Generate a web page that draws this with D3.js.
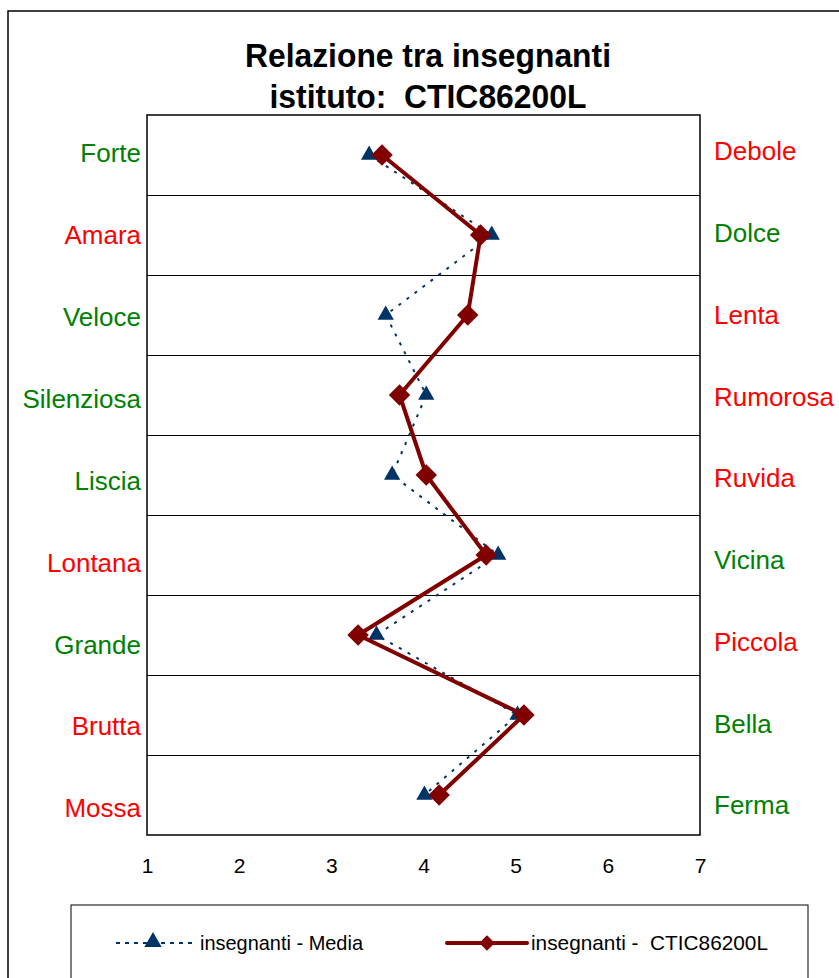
<!DOCTYPE html>
<html>
<head>
<meta charset="utf-8">
<script src="https://cdn.jsdelivr.net/npm/d3@7"></script>
<style>
  html, body { margin: 0; padding: 0; background: #fff; }
  svg { display: block; font-family: "Liberation Sans", Arial, sans-serif; }
  text { white-space: pre; }
</style>
</head>
<body>
<script>
// Semantic differential: each row is a pair of opposite adjectives, scored 1..7
const leftLabels  = ["Forte", "Amara", "Veloce", "Silenziosa", "Liscia", "Lontana", "Grande", "Brutta", "Mossa"];
const rightLabels = ["Debole", "Dolce", "Lenta", "Rumorosa", "Ruvida", "Vicina", "Piccola", "Bella", "Ferma"];
// true = positive pole (green), false = negative pole (red)
const leftPositive  = [true, false, true, true, true, false, true, false, false];
const rightPositive = [false, true, false, false, false, true, false, true, true];

const mediaValues  = [3.41, 4.74, 3.59, 4.03, 3.66, 4.81, 3.49, 5.02, 4.01];
const istitutoValues = [3.55, 4.62, 4.48, 3.74, 4.03, 4.68, 3.29, 5.09, 4.17];

const xTicks = [1, 2, 3, 4, 5, 6, 7];

const titleLines = ["Relazione tra insegnanti", "istituto:  CTIC86200L"];
const seriesNames = ["insegnanti - Media", "insegnanti -  CTIC86200L"];

const W = 839, H = 978;
const GREEN = "#008000", RED = "#ff0000";
const BLUE = "#003366", DARKRED = "#800000";

const svg = d3.select("body").append("svg").attr("width", W).attr("height", H);

// chart area frame (runs past the right and bottom edges)
svg.append("rect")
  .attr("x", 8).attr("y", 11).attr("width", 900).attr("height", 1000)
  .attr("fill", "#fff").attr("stroke", "#000").attr("stroke-width", 1.5);

// title
const titleWidths = [366, 317];
svg.append("g").selectAll("text").data(titleLines).join("text")
  .attr("x", 428).attr("y", (d, i) => 67 + i * 41)
  .attr("text-anchor", "middle")
  .attr("font-size", 34).attr("font-weight", "bold")
  .attr("textLength", (d, i) => titleWidths[i])
  .attr("lengthAdjust", "spacingAndGlyphs")
  .text(d => d);

const plot = { left: 147, right: 700, top: 115, bottom: 835 };

const x = d3.scaleLinear().domain([1, 7]).range([plot.left, plot.right]);
const y = d3.scaleBand().domain(leftLabels).range([plot.top, plot.bottom]);
const yc = d => y(d) + y.bandwidth() / 2;

// label positions for the two category axes
const yL = d3.scalePoint().domain(leftLabels).range([153, 808]);
const yR = d3.scalePoint().domain(rightLabels).range([151, 805]);

// row separators
svg.append("g").selectAll("line").data(leftLabels.slice(1)).join("line")
  .attr("x1", plot.left).attr("x2", plot.right)
  .attr("y1", d => Math.round(y(d)) + 0.5).attr("y2", d => Math.round(y(d)) + 0.5)
  .attr("stroke", "#000").attr("stroke-width", 1);

// plot frame
svg.append("rect")
  .attr("x", plot.left).attr("y", plot.top)
  .attr("width", plot.right - plot.left).attr("height", plot.bottom - plot.top)
  .attr("fill", "none").attr("stroke", "#000").attr("stroke-width", 1.5);

// left adjectives
svg.append("g").selectAll("text").data(leftLabels).join("text")
  .attr("x", 141).attr("y", d => yL(d))
  .attr("dy", "0.36em")
  .attr("text-anchor", "end")
  .attr("font-size", 26)
  .attr("fill", (d, i) => leftPositive[i] ? GREEN : RED)
  .text(d => d);

// right adjectives
svg.append("g").selectAll("text").data(rightLabels).join("text")
  .attr("x", 714).attr("y", d => yR(d))
  .attr("dy", "0.36em")
  .attr("text-anchor", "start")
  .attr("font-size", 26)
  .attr("fill", (d, i) => rightPositive[i] ? GREEN : RED)
  .text(d => d);

// value axis
const xAxis = d3.axisBottom(x).tickValues(xTicks).tickSize(0).tickPadding(0).tickFormat(d3.format("d"));
const gx = svg.append("g").attr("transform", `translate(0, ${plot.bottom + 23})`).call(xAxis);
gx.select(".domain").remove();
gx.selectAll("text").attr("font-size", 21).attr("font-family", "Liberation Sans, Arial, sans-serif").attr("fill", "#000");

// series
const mediaPts = leftLabels.map((c, i) => [x(mediaValues[i]), yc(c)]);
const istPts = leftLabels.map((c, i) => [x(istitutoValues[i]), yc(c)]);
const line = d3.line();

const triangle = d3.symbol().type(d3.symbolTriangle).size(115);
const diamond = d3.symbol().type(d3.symbolSquare).size(230);

svg.append("path").attr("d", line(mediaPts))
  .attr("fill", "none").attr("stroke", BLUE).attr("stroke-width", 2)
  .attr("stroke-dasharray", "3,7");
svg.append("g").selectAll("path").data(mediaPts).join("path")
  .attr("d", triangle)
  .attr("transform", d => `translate(${d[0]},${d[1]})`)
  .attr("fill", BLUE);

svg.append("path").attr("d", line(istPts))
  .attr("fill", "none").attr("stroke", DARKRED).attr("stroke-width", 4)
  .attr("stroke-linejoin", "round");
svg.append("g").selectAll("path").data(istPts).join("path")
  .attr("d", diamond)
  .attr("transform", d => `translate(${d[0]},${d[1]}) rotate(45)`)
  .attr("fill", DARKRED);

// legend
svg.append("rect")
  .attr("x", 71).attr("y", 905).attr("width", 737).attr("height", 120)
  .attr("fill", "#fff").attr("stroke", "#000").attr("stroke-width", 1);

const legY = 943;
const lg1 = svg.append("g");
lg1.append("line").attr("x1", 116).attr("x2", 193).attr("y1", legY).attr("y2", legY)
  .attr("stroke", BLUE).attr("stroke-width", 2).attr("stroke-dasharray", "4,5");
lg1.append("path").attr("d", d3.symbol().type(d3.symbolTriangle).size(130))
  .attr("transform", `translate(153,${legY - 1})`).attr("fill", BLUE);
lg1.append("text").attr("x", 200).attr("y", legY).attr("dy", "0.35em")
  .attr("font-size", 21).attr("textLength", 163).attr("lengthAdjust", "spacingAndGlyphs")
  .text(seriesNames[0]);

const lg2 = svg.append("g");
lg2.append("line").attr("x1", 447).attr("x2", 527).attr("y1", legY).attr("y2", legY)
  .attr("stroke", DARKRED).attr("stroke-width", 4).attr("stroke-linecap", "round");
lg2.append("path").attr("d", d3.symbol().type(d3.symbolSquare).size(120))
  .attr("transform", `translate(487,${legY}) rotate(45)`).attr("fill", DARKRED);
lg2.append("text").attr("x", 531).attr("y", legY).attr("dy", "0.35em")
  .attr("font-size", 21).attr("textLength", 237).attr("lengthAdjust", "spacingAndGlyphs")
  .text(seriesNames[1]);
</script>
</body>
</html>
